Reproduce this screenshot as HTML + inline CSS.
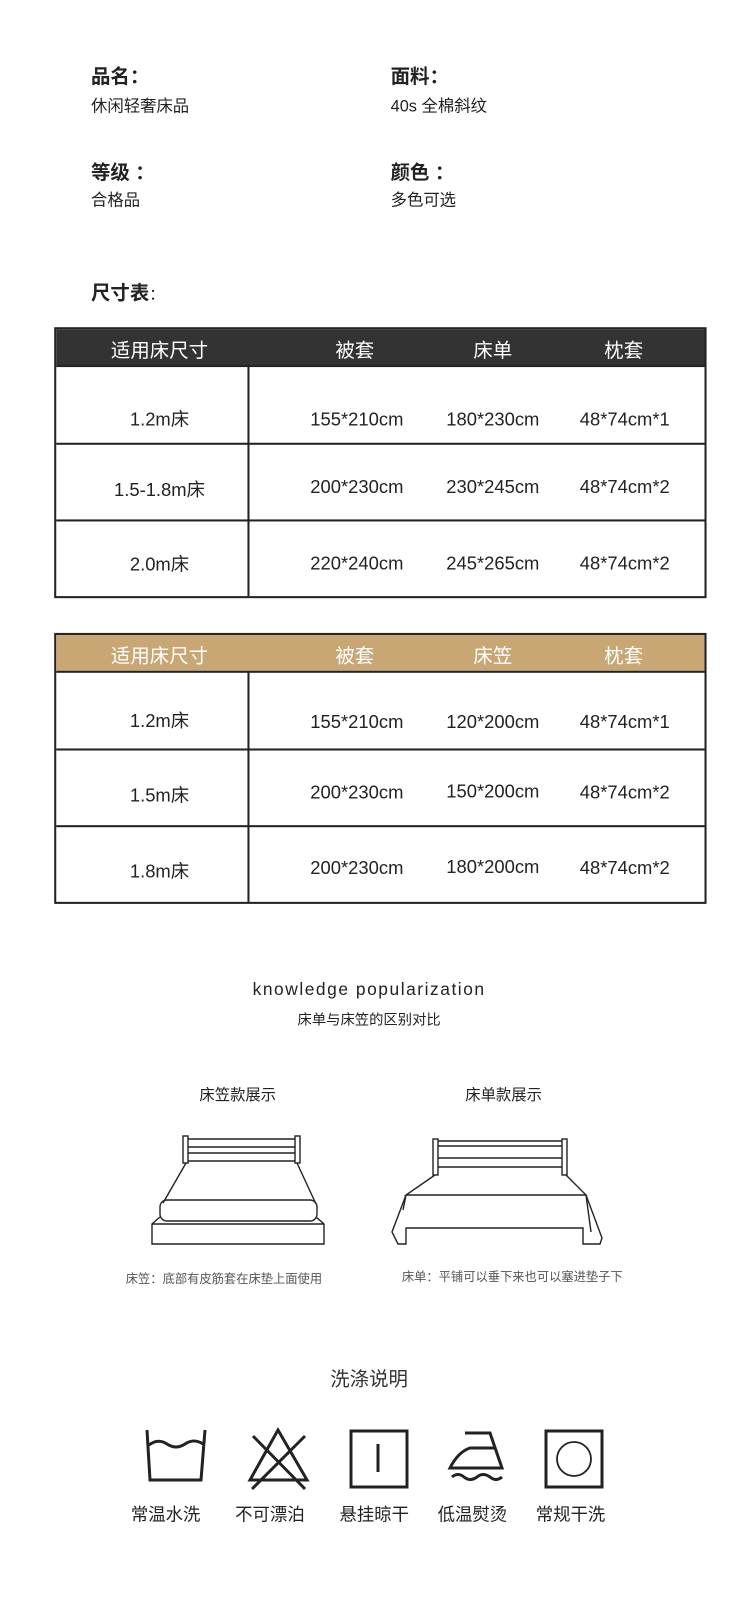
<!DOCTYPE html>
<html style="overflow:hidden"><head><meta charset="utf-8"><style>
html,body{margin:0;padding:0;width:750px;height:1603px;overflow:hidden}
body{background:#fff;position:relative;font-family:"Liberation Sans","Noto Sans CJK SC",sans-serif;color:#222}
#c{position:absolute;left:0;top:0;width:750px;height:1603px;overflow:hidden}
#w{position:absolute;left:0;top:0;width:733px;height:1567px;transform:scale(1.0225);transform-origin:0 0}
.t{position:absolute;white-space:nowrap}
.b{font-weight:bold;font-size:19px}
.s{font-size:16px}
.tbl{position:absolute;left:53px;width:634px;border:2px solid #222;box-sizing:content-box}
.hd{position:absolute;left:0;top:0;width:634px;height:35px;color:#fff;font-size:19px}
.hd span,.row span{position:absolute;transform:translateX(-50%);white-space:nowrap}
.row{position:absolute;left:0;width:634px;border-top:2px solid #222;font-size:18px}
.vl{position:absolute;left:187px;width:1.5px;background:#222}
</style></head><body>
<div id="c">
<div id="w">
<div class="t b" style="left:89px;top:60px">品名：</div>
<div class="t s" style="left:89px;top:90px">休闲轻奢床品</div>
<div class="t b" style="left:382px;top:60px">面料：</div>
<div class="t s" style="left:382px;top:90px">40s 全棉斜纹</div>
<div class="t b" style="left:89px;top:154px">等级 ：</div>
<div class="t s" style="left:89px;top:182px">合格品</div>
<div class="t b" style="left:382px;top:154px">颜色 ：</div>
<div class="t s" style="left:382px;top:182px">多色可选</div>
<div class="t b" style="left:89px;top:272px">尺寸表<span style="font-weight:normal;font-size:15px">：</span></div>

<div class="tbl" style="top:320px;height:261px">
<div class="hd" style="background:#333"><span style="left:101px;top:6px">适用床尺寸</span><span style="left:292px;top:6px">被套</span><span style="left:427px;top:6px">床单</span><span style="left:555px;top:6px">枕套</span></div>
<div class="vl" style="top:36px;height:225px"></div>
<div class="row" style="top:35px;height:74px"><span style="left:101px;top:37px">1.2m床</span><span style="left:294px;top:41px">155*210cm</span><span style="left:427px;top:41px">180*230cm</span><span style="left:556px;top:41px">48*74cm*1</span></div>
<div class="row" style="top:111px;height:73px"><span style="left:101px;top:30px">1.5-1.8m床</span><span style="left:294px;top:31px">200*230cm</span><span style="left:427px;top:31px">230*245cm</span><span style="left:556px;top:31px">48*74cm*2</span></div>
<div class="row" style="top:186px;height:73px"><span style="left:101px;top:28px">2.0m床</span><span style="left:294px;top:31px">220*240cm</span><span style="left:427px;top:31px">245*265cm</span><span style="left:556px;top:31px">48*74cm*2</span></div>
</div>

<div class="tbl" style="top:619px;height:261px">
<div class="hd" style="background:#c9a775"><span style="left:101px;top:6px">适用床尺寸</span><span style="left:292px;top:6px">被套</span><span style="left:427px;top:6px">床笠</span><span style="left:555px;top:6px">枕套</span></div>
<div class="vl" style="top:36px;height:225px"></div>
<div class="row" style="top:35px;height:74px"><span style="left:101px;top:33px">1.2m床</span><span style="left:294px;top:38px">155*210cm</span><span style="left:427px;top:38px">120*200cm</span><span style="left:556px;top:38px">48*74cm*1</span></div>
<div class="row" style="top:111px;height:73px"><span style="left:101px;top:30px">1.5m床</span><span style="left:294px;top:31px">200*230cm</span><span style="left:427px;top:30px">150*200cm</span><span style="left:556px;top:31px">48*74cm*2</span></div>
<div class="row" style="top:186px;height:73px"><span style="left:101px;top:29px">1.8m床</span><span style="left:294px;top:30px">200*230cm</span><span style="left:427px;top:29px">180*200cm</span><span style="left:556px;top:30px">48*74cm*2</span></div>
</div>

<div class="t" style="left:0;width:722px;text-align:center;top:958px;font-size:17px;letter-spacing:1.5px">knowledge popularization</div>
<div class="t" style="left:0;width:722px;text-align:center;top:987px;font-size:14px">床单与床笠的区别对比</div>
<div class="t" style="left:195px;top:1060px;font-size:15px">床笠款展示</div>
<div class="t" style="left:455px;top:1060px;font-size:15px">床单款展示</div>
<div class="t" style="left:123px;top:1242px;font-size:12px;color:#555">床笠：底部有皮筋套在床垫上面使用</div>
<div class="t" style="left:393px;top:1240px;font-size:12px;color:#555">床单：平铺可以垂下来也可以塞进垫子下</div>
<div class="t" style="left:0;width:722px;text-align:center;top:1334px;font-size:19px;color:#333">洗涤说明</div>
<div class="t" style="left:128px;top:1467px;font-size:17px">常温水洗</div>
<div class="t" style="left:230px;top:1467px;font-size:17px">不可漂泊</div>
<div class="t" style="left:332px;top:1467px;font-size:17px">悬挂晾干</div>
<div class="t" style="left:428px;top:1467px;font-size:17px">低温熨烫</div>
<div class="t" style="left:524px;top:1467px;font-size:17px">常规干洗</div>
</div>

<svg style="position:absolute;left:0;top:0;display:block" width="750" height="1603" fill="none" stroke="#222" stroke-width="1.4">
<rect x="183" y="1136" width="5" height="27"/><rect x="295" y="1136" width="5" height="27"/>
<line x1="188" y1="1139" x2="295" y2="1139"/><line x1="188" y1="1147" x2="295" y2="1147"/><line x1="188" y1="1153" x2="295" y2="1153"/><line x1="188" y1="1161" x2="295" y2="1161"/>
<path d="M186 1163 L163 1203 M297 1163 L316 1204"/>
<rect x="160" y="1200" width="157" height="21" rx="7"/>
<path d="M160 1217 L152 1224 L152 1244 L324 1244 L324 1224 L316 1217 M152 1224 L324 1224"/>
<rect x="433" y="1139" width="5" height="36"/><rect x="562" y="1139" width="5" height="36"/>
<line x1="438" y1="1141" x2="562" y2="1141"/><line x1="438" y1="1146" x2="562" y2="1146"/><line x1="438" y1="1158" x2="562" y2="1158"/><line x1="438" y1="1167" x2="562" y2="1167"/>
<path d="M435 1175 L406 1195 L586 1195 L566 1175"/>
<path d="M406 1195 L392 1232 L398 1244 L406 1244 L406 1228 L583 1228 L583 1244 L600 1244 L602 1238 L586 1195"/>
<path d="M406 1195 L403 1210 M586 1195 L591 1232"/>
<g stroke-width="3">
<path d="M147 1430 L150 1480 L201 1480 L205 1430"/>
<path d="M149 1445 Q158 1438 167 1444 Q176 1450 185 1444 Q194 1438 203 1444"/>
<path d="M250 1480 L278 1430 L307 1480 Z"/>
<line x1="253" y1="1436" x2="305" y2="1489"/><line x1="305" y1="1436" x2="252" y2="1489"/>
<rect x="351" y="1431" width="56" height="56"/>
<line x1="378" y1="1444" x2="378" y2="1472"/>
<path d="M465 1433 L490 1433 L502 1468 L450 1468 Q458 1452 470 1448 L494 1448"/>
<path d="M452 1477 Q458 1472 464 1477 Q470 1482 477 1477 Q483 1472 490 1477 Q496 1482 502 1477"/>
<rect x="546" y="1431" width="56" height="56"/>
</g>
<circle cx="574" cy="1459" r="17" stroke-width="1.8"/>
</svg>
</div>
</body></html>
